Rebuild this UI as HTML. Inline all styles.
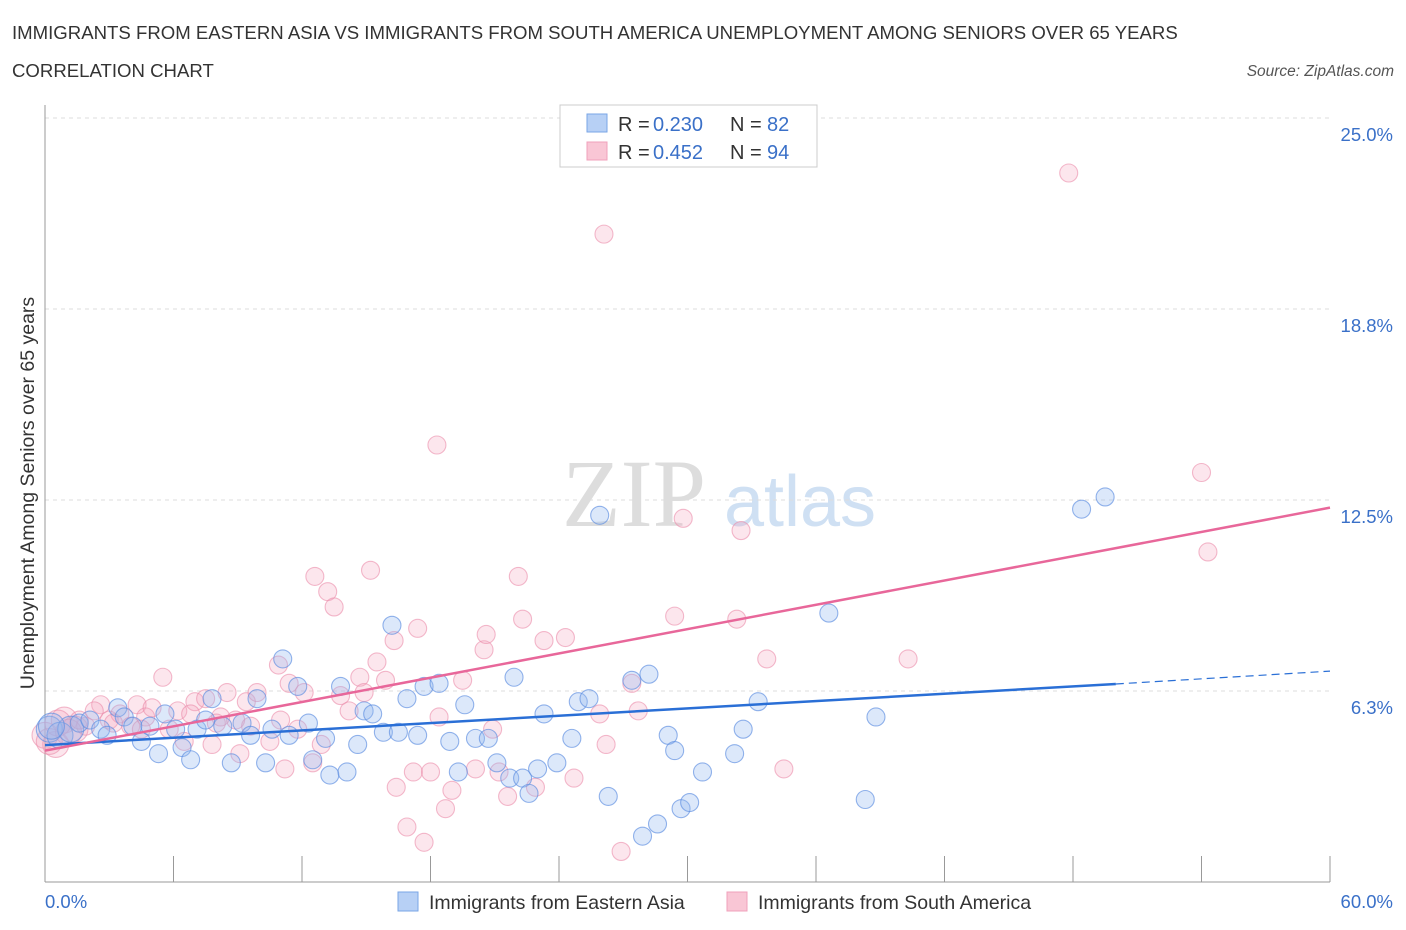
<!DOCTYPE html>
<html><head><meta charset="utf-8"><style>
body{margin:0;background:#fff;font-family:"Liberation Sans",sans-serif;}
svg{display:block}
</style></head><body>
<svg width="1406" height="930" viewBox="0 0 1406 930" xmlns="http://www.w3.org/2000/svg" id="chart">
<text x="12" y="39" font-size="18.6" fill="#333">IMMIGRANTS FROM EASTERN ASIA VS IMMIGRANTS FROM SOUTH AMERICA UNEMPLOYMENT AMONG SENIORS OVER 65 YEARS</text>
<text x="12" y="77" font-size="18.6" fill="#333">CORRELATION CHART</text>
<text x="1394" y="76" font-size="15.5" fill="#555" font-style="italic" text-anchor="end">Source: ZipAtlas.com</text>
<g>
<text x="634" y="526" font-size="96" fill="#ddd" font-family="Liberation Serif,serif" text-anchor="middle">ZIP</text>
<text x="800" y="526" font-size="72" fill="#cfe0f3" text-anchor="middle">atlas</text>
</g>
<g id="grid"></g>
<g id="axes"></g>
<g id="pts"></g>
<g id="lines"></g>
<text transform="translate(34,493) rotate(-90)" font-size="19.5" fill="#333" text-anchor="middle">Unemployment Among Seniors over 65 years</text>
<g>
<rect x="560" y="105" width="257" height="62" fill="#fff" stroke="#ccc"/>
<rect x="587" y="114" width="20" height="18" fill="#b7d0f5" stroke="#7aa6e6"/>
<rect x="587" y="142" width="20" height="18" fill="#f9c6d5" stroke="#f0a0bb"/>
<text x="618" y="131" font-size="20" fill="#333">R =</text>
<text x="653" y="131" font-size="20" fill="#3a70c8">0.230</text>
<text x="730" y="131" font-size="20" fill="#333">N =</text>
<text x="767" y="131" font-size="20" fill="#3a70c8">82</text>
<text x="618" y="159" font-size="20" fill="#333">R =</text>
<text x="653" y="159" font-size="20" fill="#3a70c8">0.452</text>
<text x="730" y="159" font-size="20" fill="#333">N =</text>
<text x="767" y="159" font-size="20" fill="#3a70c8">94</text>
</g>
<g>
<rect x="398" y="892" width="20" height="19" fill="#b7d0f5" stroke="#7aa6e6"/>
<text x="429" y="909" font-size="19.5" fill="#333">Immigrants from Eastern Asia</text>
<rect x="727" y="892" width="20" height="19" fill="#f9c6d5" stroke="#f0a0bb"/>
<text x="758" y="909" font-size="19.5" fill="#333">Immigrants from South America</text>
</g>
</svg>
<script>
const yTicks=[6.25,12.5,18.75,25];
const yTickLabels=["6.3%","12.5%","18.8%","25.0%"];
const xTickLabels=["0.0%","60.0%"];
const blueX=[0.2,0.7,1.2,1.6,2.1,2.6,2.9,3.4,3.7,4.1,4.5,4.9,5.3,5.6,6.1,6.4,6.8,7.1,7.5,7.8,8.3,8.7,9.2,9.6,9.9,10.3,10.6,11.1,11.4,11.8,12.3,12.5,13.1,13.3,13.8,14.1,14.6,14.9,15.3,15.8,16.2,16.5,16.9,17.4,17.7,18.4,18.9,19.3,19.6,20.1,20.7,21.1,21.7,21.9,22.3,22.6,23.0,23.3,23.9,24.6,24.9,25.4,25.9,26.3,27.4,27.9,28.2,28.6,29.1,29.4,29.7,30.1,30.7,32.2,32.6,33.3,36.6,38.3,38.8,48.4,49.5,0.3];
const blueY=[5.0,4.8,5.0,5.2,5.3,5.0,4.8,5.7,5.4,5.1,4.6,5.1,4.2,5.5,5.0,4.4,4.0,5.0,5.3,6.0,5.1,3.9,5.2,4.8,6.0,3.9,5.0,7.3,4.8,6.4,5.2,4.0,4.7,3.5,6.4,3.6,4.5,5.6,5.5,4.9,8.4,4.9,6.0,4.8,6.4,6.5,4.6,3.6,5.8,4.7,4.7,3.9,3.4,6.7,3.4,2.9,3.7,5.5,3.9,4.7,5.9,6.0,12.0,2.8,6.6,1.5,6.8,1.9,4.8,4.3,2.4,2.6,3.6,4.2,5.0,5.9,8.8,2.7,5.4,12.2,12.6,5.1];
const pinkX=[0.0,0.5,0.9,1.4,1.9,2.6,3.0,3.5,4.0,4.3,4.7,5.0,5.5,5.8,6.2,6.5,7.0,7.5,7.8,8.2,8.5,8.9,9.1,9.4,9.9,10.5,10.9,11.2,11.4,11.8,12.1,12.5,12.6,12.9,13.2,13.5,13.8,14.2,14.7,14.9,15.2,15.5,15.9,16.3,16.4,16.9,17.2,17.4,17.7,18.0,18.3,18.4,18.7,19.0,19.5,20.1,20.5,20.6,20.9,21.2,21.6,22.1,22.3,22.9,23.3,24.3,24.7,25.9,26.1,26.2,26.9,27.4,27.7,29.8,29.4,32.3,32.5,33.7,34.5,40.3,47.8,54.0,54.3,0.2,0.6,1.1,1.6,2.3,3.2,4.5,6.8,8.0,9.6,11.0];
const pinkY=[4.8,4.5,5.3,5.0,5.1,5.8,5.3,5.5,5.1,5.8,5.4,5.7,6.7,5.0,5.6,4.6,5.9,6.0,4.5,5.4,6.2,5.3,4.2,5.9,6.2,4.6,7.1,3.7,6.5,5.0,6.2,3.9,10.0,4.5,9.5,9.0,6.1,5.6,6.7,6.2,10.2,7.2,6.6,7.9,3.1,1.8,3.6,8.3,1.3,3.6,14.3,5.4,2.4,3.0,6.6,3.7,7.6,8.1,5.0,3.6,2.8,10.0,8.6,3.1,7.9,8.0,3.4,5.5,21.2,4.5,1.0,6.5,5.6,11.9,8.7,8.6,11.5,7.3,3.7,7.3,23.2,13.4,10.8,4.6,5.2,4.9,5.3,5.6,5.2,5.0,5.5,5.2,5.1,5.3];
const blueFit=[4.48,6.48,6.9]; // at x=0, 50, 60
const pinkFit=[4.3,12.25];     // at x=0, 60
const X0=45,X1=1330,Y0=882,Y1=118;
const sx=v=>X0+(X1-X0)*v/60, sy=v=>Y0-(Y0-Y1)*v/25;
const NS="http://www.w3.org/2000/svg";
function mk(tag,attrs,parent){const e=document.createElementNS(NS,tag);for(const k in attrs)e.setAttribute(k,attrs[k]);document.getElementById(parent).appendChild(e);return e;}
yTicks.forEach((t,i)=>{
 const l=mk('line',{x1:X0,x2:X1,y1:sy(t),y2:sy(t),stroke:'#ddd','stroke-dasharray':'4,4'},'grid');
 
 
 const tx=mk('text',{x:1393,y:sy(t)+23,'font-size':18.5,fill:'#3a70c8','text-anchor':'end'},'axes');
 tx.textContent=yTickLabels[i];
 
 
});
const ax=mk('line',{x1:X0,x2:X1,y1:Y0,y2:Y0,stroke:'#999'},'axes');


const ay=mk('line',{x1:X0,x2:X0,y1:105,y2:Y0,stroke:'#999'},'axes');


for(let i=0;i<=10;i++){
 const t=mk('line',{x1:sx(i*6),x2:sx(i*6),y1:Y0,y2:Y0-26,stroke:'#999'},'axes');
 
 
}
[[0,'start',45],[60,'end',1393]].forEach((d,i)=>{
 const t=mk('text',{x:d[2],y:908,'font-size':18.5,fill:'#3a70c8','text-anchor':d[1]},'axes');
 t.textContent=xTickLabels[i];
 
 
});
function pts(xs,ys,fill,stroke,name){
 xs.forEach((x,i)=>{
  const r=(x<1.5)?13:9;
  const c=mk('circle',{cx:sx(x),cy:sy(ys[i]),r:r,fill:fill,stroke:stroke,'stroke-width':1.1},'pts');
  
  
 });
}
pts(pinkX,pinkY,'rgba(245,165,190,0.28)','rgba(235,140,170,0.6)','south-america-point');
pts(blueX,blueY,'rgba(150,185,240,0.33)','rgba(90,140,225,0.65)','eastern-asia-point');
const b1=mk('line',{x1:sx(0),y1:sy(blueFit[0]),x2:sx(50),y2:sy(blueFit[1]),stroke:'#2a6fd6','stroke-width':2.5},'lines');


const b2=mk('line',{x1:sx(50),y1:sy(blueFit[1]),x2:sx(60),y2:sy(blueFit[2]),stroke:'#2a6fd6','stroke-width':1.2,'stroke-dasharray':'8,5'},'lines');


const p1=mk('line',{x1:sx(0),y1:sy(pinkFit[0]),x2:sx(60),y2:sy(pinkFit[1]),stroke:'#e8679a','stroke-width':2.5},'lines');


</script>
</body></html>
